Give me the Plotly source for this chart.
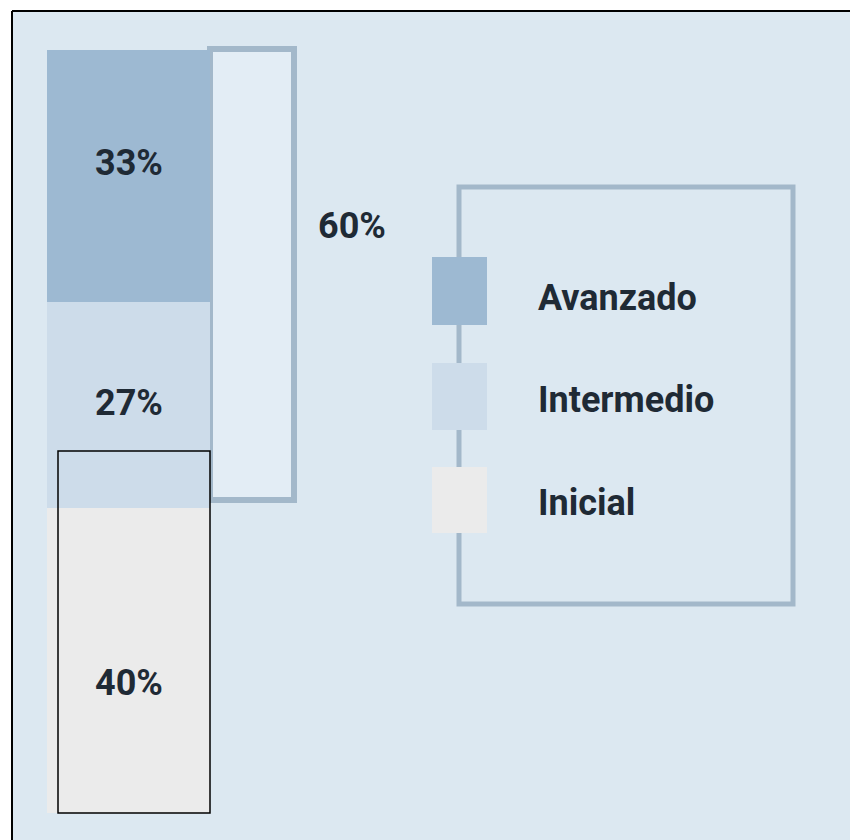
import plotly.graph_objects as go

# niveles, de abajo hacia arriba
categorias = ["Inicial", "Intermedio", "Avanzado"]
porcentajes = [40, 27, 33]
colores = ["#ebebeb", "#cddcea", "#9db9d2"]

# orden en que aparecen en la leyenda (de arriba hacia abajo)
leyenda = ["Avanzado", "Intermedio", "Inicial"]

FONT = "Roboto, Liberation Sans, sans-serif"
TXT = "#1f2a35"
LINEA = "#a3b8ca"
FONDO = "#dce8f1"

fig = go.Figure()

# posiciones (px) de las etiquetas dentro de la barra
etiqueta_y = [683, 403, 163]
for cat, val, col, ty in zip(categorias, porcentajes, colores, etiqueta_y):
    fig.add_trace(go.Bar(
        x=[128.5], y=[val], width=163, name=cat,
        marker=dict(color=col, line=dict(width=0)),
        hoverinfo="skip", showlegend=False,
    ))
    fig.add_annotation(text=f"<b>{val}%</b>", xref="x", yref="y2", x=128.5, y=ty,
                       showarrow=False, font=dict(family=FONT, size=36, color=TXT))

# corchete que agrupa intermedio + avanzado
fig.add_shape(type="rect", xref="x", yref="y2", x0=210, x1=294, y0=49, y1=500,
              line=dict(color=LINEA, width=6), fillcolor="#e3edf5", layer="below")
suma = porcentajes[1] + porcentajes[2]
fig.add_annotation(text=f"<b>{suma}%</b>", xref="x", yref="y2", x=352, y=226,
                   showarrow=False, font=dict(family=FONT, size=36, color=TXT))

# recuadro negro fino
fig.add_shape(type="rect", xref="x", yref="y2", x0=58, x1=210, y0=451, y1=813,
              line=dict(color="black", width=1.5), layer="above")

# caja de la leyenda
fig.add_shape(type="rect", xref="x", yref="y2", x0=459, x1=793, y0=187, y1=604,
              line=dict(color=LINEA, width=5), layer="below")
ley_y = [(257, 325), (363, 430), (467, 533)]
ley_txt_y = [298, 400, 503]
for nombre, (y0, y1), ty in zip(leyenda, ley_y, ley_txt_y):
    col = colores[categorias.index(nombre)]
    fig.add_shape(type="rect", xref="x", yref="y2", x0=432, x1=487, y0=y0, y1=y1,
                  line=dict(width=0), fillcolor=col, layer="below")
    fig.add_annotation(text=f"<b>{nombre}</b>", xref="x", yref="y2", x=536, y=ty,
                       xanchor="left", showarrow=False,
                       font=dict(family=FONT, size=36, color=TXT))

# marco negro (solo arriba e izquierda visibles)
fig.add_shape(type="line", xref="paper", yref="paper", x0=0, x1=1.01, y0=1, y1=1,
              line=dict(color="black", width=2))
fig.add_shape(type="line", xref="paper", yref="paper", x0=0, x1=0, y0=-0.01, y1=1,
              line=dict(color="black", width=2))

px_pct = 7.63
fig.update_layout(
    width=850, height=840,
    margin=dict(l=12, r=0, t=11, b=0, pad=0),
    paper_bgcolor="white", plot_bgcolor=FONDO,
    barmode="stack", bargap=0,
    showlegend=False,
    xaxis=dict(range=[12, 850], visible=False, fixedrange=True),
    yaxis=dict(range=[-27 / px_pct, (813 - 11) / px_pct], visible=False, fixedrange=True),
    yaxis2=dict(range=[840, 11], overlaying="y", visible=False, fixedrange=True),
)

fig.write_html("out.html", config={"displayModeBar": False},
               post_script="document.body.style.margin='0';document.body.style.overflow='hidden';")
